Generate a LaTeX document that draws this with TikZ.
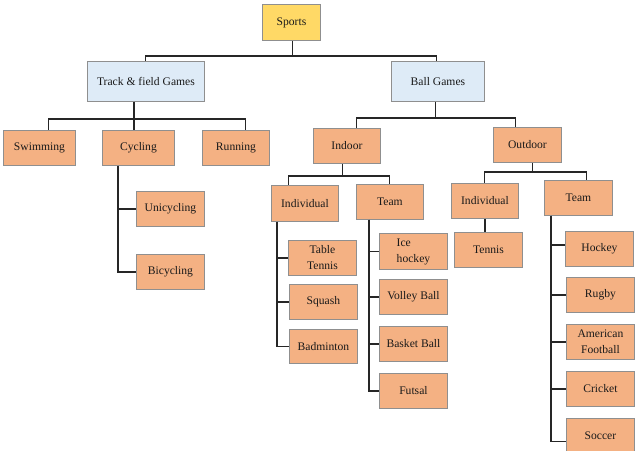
\documentclass[tikz,border=0pt]{standalone}
\usepackage{fontspec}
\setmainfont{Liberation Serif}
\definecolor{orfill}{HTML}{F4B183}
\definecolor{blfill}{HTML}{DEEBF7}
\definecolor{yefill}{HTML}{FFD966}
\definecolor{bordr}{HTML}{8F8F8F}
\definecolor{txt}{HTML}{1A1A1A}
\begin{document}
\begin{tikzpicture}[x=1pt,y=-1pt,
  box/.style={draw=bordr, line width=0.9pt, fill=orfill, anchor=north west, inner sep=1pt,
    minimum width=68pt, minimum height=35pt, text=txt, align=center,
    font=\fontsize{11.6}{16}\selectfont},
  conn/.style={draw=black!85, line width=1.4pt}]
\fill[white] (0,0) rectangle (640,450);
\useasboundingbox (0,0) rectangle (640,450);
% level 0-1
\node[box, fill=yefill, minimum width=58pt, minimum height=36pt] (sports) at (262,4) {Sports};
\node[box, fill=blfill, minimum width=117pt, minimum height=40pt] (track) at (87,61) {Track \& field Games};
\node[box, fill=blfill, minimum width=93pt, minimum height=40pt] (ball) at (391,61) {Ball Games};
% track children
\node[box, minimum width=72pt] (swim) at (3,130) {Swimming};
\node[box, minimum width=72pt] (cyc) at (102,130) {Cycling};
\node[box, minimum width=67pt] (run) at (202,130) {Running};
\node[box] (uni) at (136,191) {Unicycling};
\node[box] (bi) at (136,254) {Bicycling};
% ball children
\node[box, minimum width=67pt] (indoor) at (313,128) {Indoor};
\node[box] (outdoor) at (493,127) {Outdoor};
\node[box, minimum width=67pt, minimum height=36pt] (ii) at (271,185) {Individual};
\node[box, minimum width=67pt] (it) at (356,184) {Team};
\node[box, minimum width=67pt] (oi) at (451,183) {Individual};
\node[box] (ot) at (544,180) {Team};
\node[box] (tennis) at (454,232) {Tennis};
% indoor individual
\node[box] (tt) at (288,240) {Table\\Tennis};
\node[box] (sq) at (289,284) {Squash};
\node[box, minimum height=34pt] (bad) at (289,329) {Badminton};
% indoor team
\node[box, align=left, minimum height=36pt] (ice) at (379,233) {Ice\\hockey};
\node[box] (vb) at (379,279) {Volley Ball};
\node[box] (bb) at (379,326) {Basket Ball};
\node[box] (fut) at (379,373) {Futsal};
% outdoor team
\node[box] (hoc) at (565,231) {Hockey};
\node[box] (rug) at (566,277) {Rugby};
\node[box] (af) at (566,324) {American\\Football};
\node[box] (cri) at (566,371) {Cricket};
\node[box, minimum height=34pt] (soc) at (566,418) {Soccer};
% connectors
\draw[conn] ([xshift=1pt]sports.south) -- ++(0,15) -| ([xshift=-0.5pt]track.north);
\draw[conn] ([xshift=1pt]sports.south) -- ++(0,15) -| ([xshift=-1.5pt]ball.north);
\draw[conn] ([xshift=-12pt]track.south) -- ++(0,17) -| ([xshift=9pt]swim.north);
\draw[conn] ([xshift=-12pt]track.south) -- ([xshift=-4.5pt]cyc.north);
\draw[conn] ([xshift=-12pt]track.south) -- ++(0,17) -| ([xshift=9.5pt]run.north);
\draw[conn] ([xshift=16pt]cyc.south west) |- (uni.west);
\draw[conn] ([xshift=16pt]cyc.south west) |- (bi.west);
\draw[conn] ([xshift=-2.5pt]ball.south) -- ++(0,16) -| ([xshift=9.5pt]indoor.north);
\draw[conn] ([xshift=-2.5pt]ball.south) -- ++(0,16) -| ([xshift=-12pt]outdoor.north);
\draw[conn] ([xshift=-4.5pt]indoor.south) -- ++(0,12) -| ([xshift=-16.5pt]ii.north);
\draw[conn] ([xshift=-4.5pt]indoor.south) -- ++(0,12) -| ([xshift=-0.5pt]it.north);
\draw[conn] ([xshift=5pt]outdoor.south) -- ++(0,9) -| ([xshift=-0.5pt]oi.north);
\draw[conn] ([xshift=5pt]outdoor.south) -- ++(0,9) -| ([xshift=8pt]ot.north);
\draw[conn] (oi.south) -- (oi.south |- tennis.north);
\draw[conn] ([xshift=6pt]ii.south west) |- (tt.west);
\draw[conn] ([xshift=6pt]ii.south west) |- (sq.west);
\draw[conn] ([xshift=6pt]ii.south west) |- (bad.west);
\draw[conn] ([xshift=13pt]it.south west) |- (ice.west);
\draw[conn] ([xshift=13pt]it.south west) |- (vb.west);
\draw[conn] ([xshift=13pt]it.south west) |- (bb.west);
\draw[conn] ([xshift=13pt]it.south west) |- (fut.west);
\draw[conn] ([xshift=7pt]ot.south west) |- ([yshift=4pt]hoc.west);
\draw[conn] ([xshift=7pt]ot.south west) |- (rug.west);
\draw[conn] ([xshift=7pt]ot.south west) |- (af.west);
\draw[conn] ([xshift=7pt]ot.south west) |- (cri.west);
\draw[conn] ([xshift=7pt]ot.south west) |- ([yshift=-6pt]soc.west);
\end{tikzpicture}
\end{document}
